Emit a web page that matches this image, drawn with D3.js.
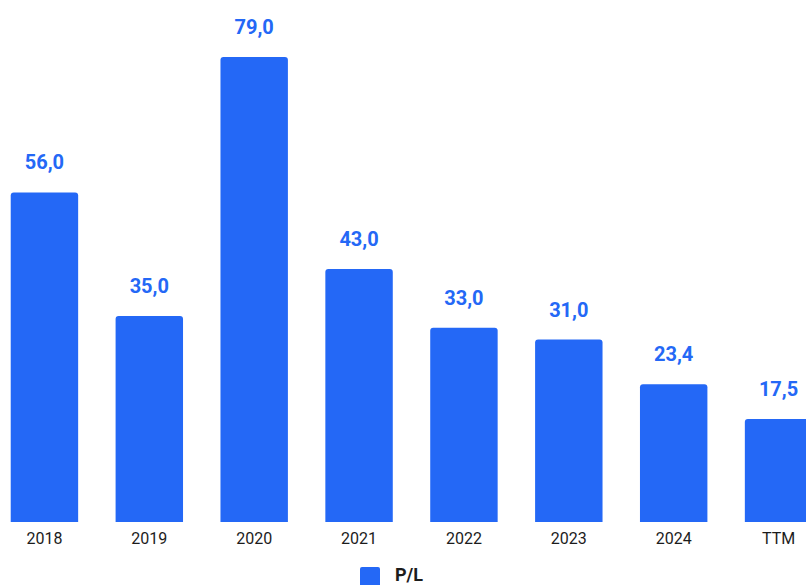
<!DOCTYPE html>
<html>
<head>
<meta charset="utf-8">
<script src="https://cdn.jsdelivr.net/npm/d3@7"></script>
<style>
  html, body { margin: 0; padding: 0; background: #fff; }
  svg { display: block; }
</style>
</head>
<body>
<svg id="chart" width="806" height="585"></svg>
<script>
// Price / earnings ratio by year
const categories = ["2018", "2019", "2020", "2021", "2022", "2023", "2024", "TTM"];
const peValues = [56.0, 35.0, 79.0, 43.0, 33.0, 31.0, 23.4, 17.5];
const seriesName = "P/L";

const W = 806, H = 585;
const barColor = "#2468F6";
const svg = d3.select("#chart");

const baseY = 522;
const x = d3.scaleBand()
  .domain(categories)
  .range([-8, 831])
  .paddingInner(0.357)
  .paddingOuter(0.1785);

const y = d3.scaleLinear()
  .domain([0, 79])
  .range([baseY, 57]);

const fmt = v => d3.format(".1f")(v).replace(".", ",");

// bars with slightly rounded top corners
const r = 3;
function barPath(x0, y0, w, h) {
  return `M${x0},${y0 + h}V${y0 + r}Q${x0},${y0} ${x0 + r},${y0}` +
         `H${x0 + w - r}Q${x0 + w},${y0} ${x0 + w},${y0 + r}V${y0 + h}Z`;
}

svg.append("g").selectAll("path")
  .data(categories.map((c, i) => ({ c, v: peValues[i] })))
  .join("path")
  .attr("d", d => barPath(x(d.c), y(d.v), x.bandwidth(), baseY - y(d.v)))
  .attr("fill", barColor);

// value labels
svg.append("g").selectAll("text")
  .data(categories.map((c, i) => ({ c, v: peValues[i] })))
  .join("text")
  .attr("x", d => x(d.c) + x.bandwidth() / 2)
  .attr("y", d => y(d.v) - 23)
  .attr("text-anchor", "middle")
  .attr("font-family", "Roboto, 'Liberation Sans', sans-serif")
  .attr("font-weight", "bold")
  .attr("font-size", 20)
  .attr("fill", barColor)
  .text(d => fmt(d.v));

// category axis
const axis = svg.append("g")
  .attr("transform", `translate(0,${baseY})`)
  .call(d3.axisBottom(x).tickSize(0).tickPadding(11));
axis.select(".domain").remove();
axis.selectAll("text")
  .attr("font-family", "Roboto, 'Liberation Sans', sans-serif")
  .attr("font-size", 16)
  .attr("fill", "#1c1c1c");

// legend
const legend = svg.append("g").attr("transform", "translate(360,567)");
legend.append("rect")
  .attr("width", 20).attr("height", 20).attr("rx", 2)
  .attr("fill", barColor);
legend.append("text")
  .attr("x", 35).attr("y", 14)
  .attr("font-family", "Roboto, 'Liberation Sans', sans-serif")
  .attr("font-weight", "bold")
  .attr("font-size", 18)
  .attr("fill", "#1c1c1c")
  .text(seriesName);
</script>
</body>
</html>
